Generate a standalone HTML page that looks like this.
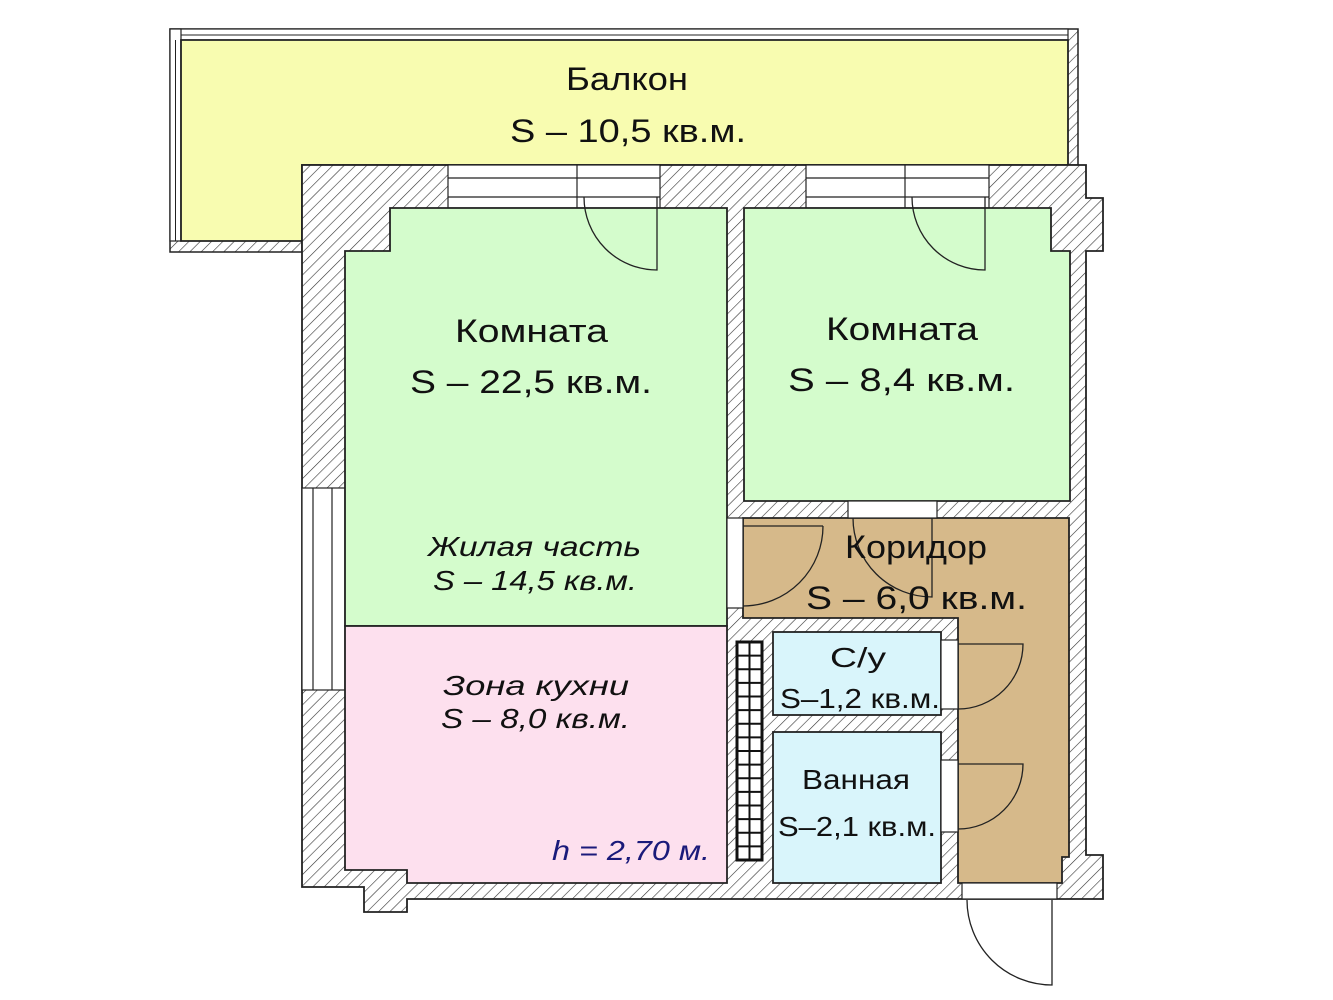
<!DOCTYPE html>
<html><head><meta charset="utf-8"><style>html,body{margin:0;padding:0;background:#fff}svg{display:block}</style></head>
<body>
<svg width="1333" height="1000" viewBox="0 0 1333 1000" xmlns="http://www.w3.org/2000/svg" font-family="'Liberation Sans', sans-serif">
<defs>
<pattern id="h" patternUnits="userSpaceOnUse" width="8" height="8" patternTransform="rotate(45)">
<rect width="8" height="8" fill="#fff"/><line x1="0" y1="0" x2="0" y2="8" stroke="#333" stroke-width="1.2"/>
</pattern>
</defs>
<rect width="1333" height="1000" fill="#fff"/>
<!-- balcony -->
<path d="M170,29 H1078 V165 H302 V252 H170 Z" fill="url(#h)" stroke="#222" stroke-width="1.5"/>
<rect x="170" y="29" width="898" height="11" fill="#fff" stroke="#222" stroke-width="1.2"/>
<line x1="176" y1="35" x2="1068" y2="35" stroke="#222" stroke-width="1"/>
<rect x="170" y="29" width="11" height="212" fill="#fff" stroke="#222" stroke-width="1.2"/>
<line x1="175.5" y1="40" x2="175.5" y2="241" stroke="#222" stroke-width="1"/>
<path d="M181,40 H1068 V165 H302 V241 H181 Z" fill="#f8fcb0" stroke="#222" stroke-width="1.8"/>
<!-- building hatch -->
<path d="M302,165 H1086 V198 H1103 V251 H1086 V855 H1103 V899 H407 V912 H364 V887 H302 Z" fill="url(#h)" stroke="#222" stroke-width="1.8"/>
<!-- top windows -->
<g stroke="#222" stroke-width="1.2" fill="#fff">
<rect x="448" y="165" width="212" height="43"/>
<line x1="448" y1="178" x2="660" y2="178"/><line x1="448" y1="197" x2="660" y2="197"/>
<line x1="577" y1="165" x2="577" y2="208"/>
<rect x="806" y="165" width="183" height="43"/>
<line x1="806" y1="178" x2="989" y2="178"/><line x1="806" y1="197" x2="989" y2="197"/>
<line x1="905" y1="165" x2="905" y2="208"/>
<!-- left window -->
<rect x="302" y="488" width="43" height="202"/>
<line x1="313" y1="488" x2="313" y2="690"/><line x1="332" y1="488" x2="332" y2="690"/>
</g>
<!-- rooms -->
<g stroke="#222" stroke-width="1.8">
<path d="M345,251 H390 V208 H727 V626 H345 Z" fill="#d4fccc"/>
<path d="M345,626 H727 V883 H407 V870 H345 Z" fill="#fde0ee"/>
<path d="M744,208 H1051 V251 H1070 V501 H744 Z" fill="#d4fccc"/>
<path d="M743,518 H1069 V857 H1062 V883 H958 V618 H743 Z" fill="#d6b98a"/>
<rect x="773" y="632" width="168" height="83" fill="#d9f5fb"/>
<rect x="773" y="732" width="168" height="151" fill="#d9f5fb"/>
</g>
<!-- openings -->
<g fill="#fff" stroke="#222" stroke-width="1.2">
<rect x="848" y="501" width="89" height="17"/>
<rect x="727" y="518" width="16" height="90"/>
<rect x="941" y="640" width="17" height="69"/>
<rect x="941" y="760" width="17" height="72"/>
<rect x="962" y="883" width="95" height="16"/>
</g>
<!-- doors -->
<g fill="none" stroke="#222" stroke-width="1.3">
<path d="M584,197 A73,73 0 0 0 657,270 V197"/>
<path d="M912,197 A73,73 0 0 0 985,270 V197"/>
<path d="M823,526 A80,80 0 0 1 743,606 M743,526 H823"/>
<path d="M853,518 A79,79 0 0 0 932,597 V518"/>
<path d="M958,644 H1023 A65,65 0 0 1 958,709"/>
<path d="M958,764 H1023 A65,65 0 0 1 958,829"/>
<path d="M967,900 A85,85 0 0 0 1052,985 V900"/>
</g>
<!-- vent shaft -->
<g stroke="#111" fill="#fff">
<rect x="737" y="642" width="25" height="218" stroke-width="3"/>
<line x1="749.5" y1="642" x2="749.5" y2="860" stroke-width="2"/>
</g>
<g stroke="#111" stroke-width="2">
<line x1="737" y1="655.6" x2="762" y2="655.6"/><line x1="737" y1="669.2" x2="762" y2="669.2"/><line x1="737" y1="682.9" x2="762" y2="682.9"/><line x1="737" y1="696.5" x2="762" y2="696.5"/><line x1="737" y1="710.1" x2="762" y2="710.1"/><line x1="737" y1="723.7" x2="762" y2="723.7"/><line x1="737" y1="737.4" x2="762" y2="737.4"/><line x1="737" y1="751" x2="762" y2="751"/><line x1="737" y1="764.6" x2="762" y2="764.6"/><line x1="737" y1="778.2" x2="762" y2="778.2"/><line x1="737" y1="791.9" x2="762" y2="791.9"/><line x1="737" y1="805.5" x2="762" y2="805.5"/><line x1="737" y1="819.1" x2="762" y2="819.1"/><line x1="737" y1="832.7" x2="762" y2="832.7"/><line x1="737" y1="846.4" x2="762" y2="846.4"/>
</g>
<!-- text -->
<g fill="#111" font-size="32" lengthAdjust="spacingAndGlyphs">
<text x="566" y="90" textLength="122" lengthAdjust="spacingAndGlyphs">Балкон</text>
<text x="510" y="142" textLength="236" lengthAdjust="spacingAndGlyphs">S – 10,5 кв.м.</text>
<text x="455" y="342" textLength="153" lengthAdjust="spacingAndGlyphs">Комната</text>
<text x="410" y="393" textLength="242" lengthAdjust="spacingAndGlyphs">S – 22,5 кв.м.</text>
<text x="826" y="340" textLength="152" lengthAdjust="spacingAndGlyphs">Комната</text>
<text x="788" y="391" textLength="227" lengthAdjust="spacingAndGlyphs">S – 8,4 кв.м.</text>
<text x="845" y="558" textLength="142" lengthAdjust="spacingAndGlyphs">Коридор</text>
<text x="806" y="609" textLength="221" lengthAdjust="spacingAndGlyphs">S – 6,0 кв.м.</text>
</g>
<g fill="#111" font-size="28">
<text x="830" y="667" textLength="56" lengthAdjust="spacingAndGlyphs">С/у</text>
<text x="780" y="708" textLength="160" lengthAdjust="spacingAndGlyphs">S–1,2 кв.м.</text>
<text x="802" y="789" textLength="108" lengthAdjust="spacingAndGlyphs">Ванная</text>
<text x="778" y="836" textLength="158" lengthAdjust="spacingAndGlyphs">S–2,1 кв.м.</text>
</g>
<g fill="#111" font-size="28" font-style="italic">
<text x="428" y="556" textLength="213" lengthAdjust="spacingAndGlyphs">Жилая часть</text>
<text x="433" y="590" textLength="204" lengthAdjust="spacingAndGlyphs">S – 14,5 кв.м.</text>
<text x="443" y="695" textLength="186" lengthAdjust="spacingAndGlyphs">Зона кухни</text>
<text x="441" y="728" textLength="189" lengthAdjust="spacingAndGlyphs">S – 8,0 кв.м.</text>
<text x="552" y="860" textLength="158" lengthAdjust="spacingAndGlyphs" fill="#1a1a7a">h = 2,70 м.</text>
</g>
</svg>
</body></html>
